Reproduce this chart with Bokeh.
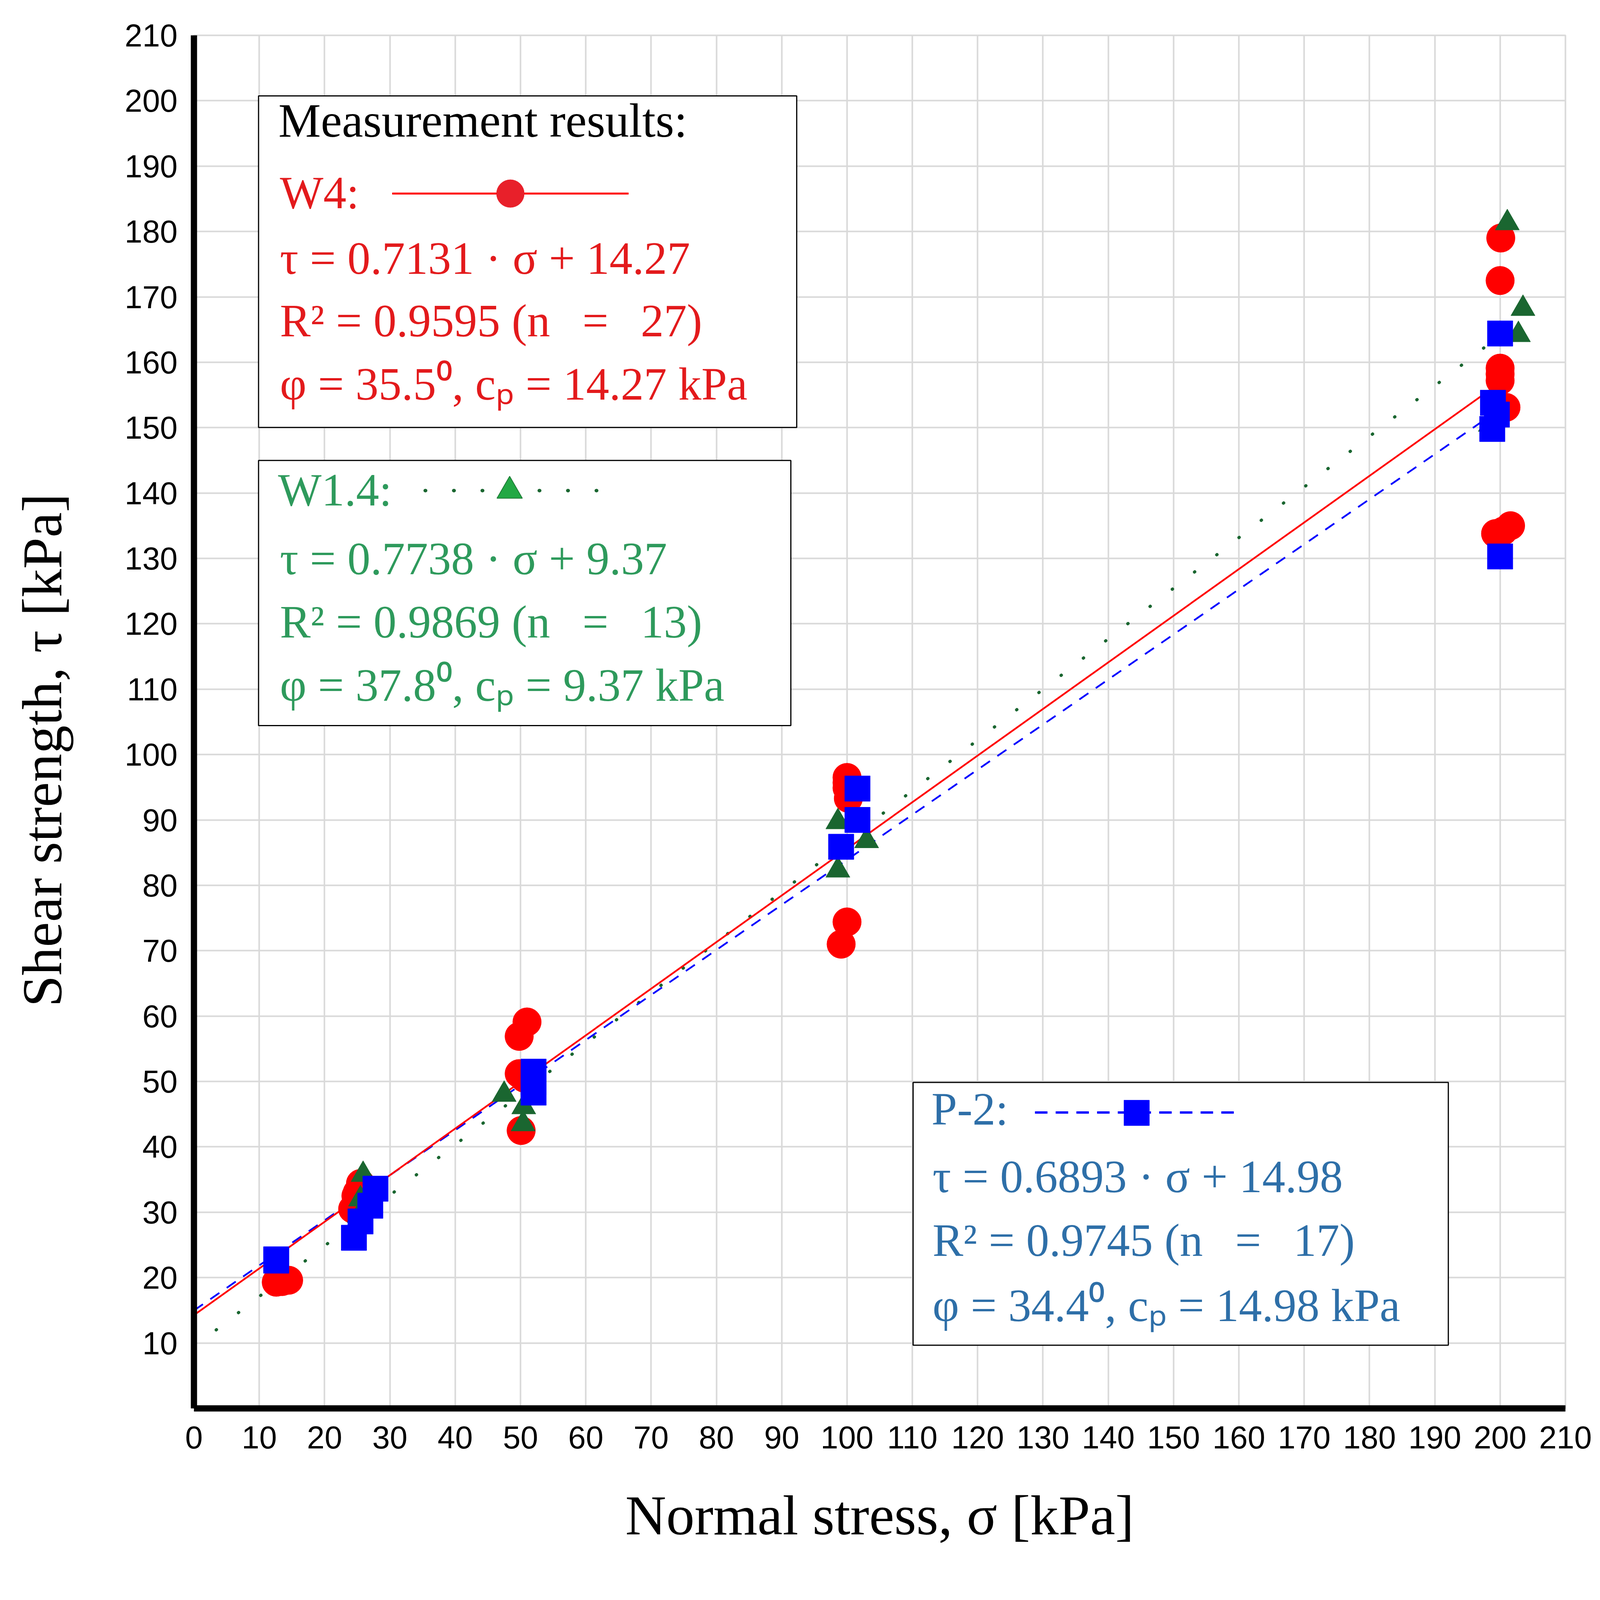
from bokeh.plotting import figure
from bokeh.models import Range1d, FixedTicker, Label, BoxAnnotation
from bokeh.embed import file_html
from bokeh.resources import INLINE

# ---------------- data ----------------
w4_x = [12.6, 14.5, 13.5,
        25.5, 24.8, 24.3, 25.0,
        51.0, 49.8, 49.8, 50.6, 50.1,
        100.0, 100.0, 100.2, 100.0, 100.0, 99.1,
        200.1, 200.0, 200.0, 200.0, 200.0, 200.9, 201.6, 199.3, 200.5]
w4_y = [19.3, 19.6, 19.4,
        34.4, 32.5, 30.5, 33.0,
        59.1, 56.9, 51.2, 50.5, 42.5,
        96.5, 94.9, 93.3, 95.7, 74.4, 71.0,
        179.0, 172.5, 159.1, 157.2, 158.2, 153.1, 135.0, 133.8, 134.2]

w14_x = [25.9, 25.5, 25.3,
         47.5, 50.5, 50.4,
         98.6, 103.0, 98.6,
         201.1, 203.5, 202.8, 198.5]
w14_y = [35.75, 32.0, 29.5,
         48.0, 46.1, 43.5,
         89.7, 86.8, 82.3,
         181.3, 168.2, 164.2, 150.5]

p2_x = [12.6, 12.6,
        27.8, 27.0, 25.5, 24.5,
        52.0, 52.0, 52.0,
        101.6, 101.6, 99.1,
        200.0, 198.9, 198.8, 200.0, 199.5]
p2_y = [22.8, 22.6,
        33.6, 31.0, 28.6, 26.1,
        51.5, 49.9, 48.3,
        94.8, 90.0, 85.9,
        164.4, 153.8, 149.8, 130.3, 152.0]

series_names = ["W4", "W1.4", "P-2"]
slopes = [0.7131, 0.7738, 0.6893]
intercepts = [14.27, 9.37, 14.98]
r2 = ["0.9595", "0.9869", "0.9745"]
n_obs = [27, 13, 17]
phi = ["35.5", "37.8", "34.4"]
trend_x = [0, 200]

x_ticks = list(range(0, 211, 10))
y_ticks = list(range(10, 211, 10))

# ---------------- styling ----------------
RED, GREEN_M, BLUE = "#ff0000", "#1a6630", "#0000ff"
TXT = ["#e31a1c", "#2e9a5c", "#2e6fa8"]
SERIF = "Liberation Serif"
NB = "\u00a0"
GAP = " " + NB + "\u2009"

W, H = 4090, 3986
FL, FT, FR, FB = 496, 90, 4007, 3605   # frame box in figure pixels

p = figure(width=W, height=H, x_range=Range1d(0, 210), y_range=Range1d(0, 210),
           output_backend="svg", toolbar_location=None,
           min_border_left=FL, min_border_right=W - FR,
           min_border_top=FT, min_border_bottom=H - FB)
p.background_fill_color = "white"
p.border_fill_color = "white"
p.outline_line_color = "#d9d9d9"
p.outline_line_width = 4

for ax in (p.xaxis[0], p.yaxis[0]):
    ax.axis_line_color = "black"
    ax.axis_line_width = 16
    ax.major_tick_in = 0
    ax.major_tick_out = 0
    ax.minor_tick_in = 0
    ax.minor_tick_out = 0
    ax.major_label_text_font = "Liberation Sans"
    ax.major_label_text_font_size = "81px"
    ax.major_label_text_color = "black"
    ax.axis_label_text_font = SERIF
    ax.axis_label_text_font_size = "145px"
    ax.axis_label_text_font_style = "normal"
    ax.axis_label_text_color = "black"

p.xaxis.ticker = FixedTicker(ticks=x_ticks)
p.yaxis.ticker = FixedTicker(ticks=y_ticks)
p.xaxis.major_label_standoff = 45
p.yaxis.major_label_standoff = 42
p.xaxis.axis_label = "Normal stress, σ [kPa]"
p.yaxis.axis_label = "Shear strength, τ [kPa]" + NB * 4
p.xaxis.axis_label_standoff = 88
p.yaxis.axis_label_standoff = 128

for g in (p.xgrid[0], p.ygrid[0]):
    g.grid_line_color = "#d9d9d9"
    g.grid_line_width = 4


# reference-image pixel -> data coordinates
def dx(px):
    return (px - 528) / (4264 - 528) * 210


def dy(py):
    return (3836 - py) / (3836 - 96) * 210


# legend boxes (drawn under the glyphs, over the grid)
for (l, t, r, b) in [(704, 261, 2170, 1164), (704, 1254, 2154, 1976), (2487, 2948, 3945, 3664)]:
    p.add_layout(BoxAnnotation(left=dx(l), right=dx(r), top=dy(t), bottom=dy(b),
                               fill_color="white", fill_alpha=1.0,
                               line_color="black", line_alpha=1.0, line_width=3,
                               level="underlay"))

# trend lines
ty = [[slopes[i] * x + intercepts[i] for x in trend_x] for i in range(3)]
p.line(trend_x, ty[1], line_color=GREEN_M, line_width=8, line_dash="1 71", line_cap="round")
p.line(trend_x, ty[2], line_color=BLUE, line_width=4.5, line_dash="28 23")
p.line(trend_x, ty[0], line_color=RED, line_width=4.5)

# data points
p.scatter(w4_x, w4_y, marker="circle", size=73, fill_color=RED, line_color=RED, line_width=1)
p.scatter(w14_x, w14_y, marker="triangle", size=62, fill_color=GREEN_M, line_color=GREEN_M, line_width=1)
p.scatter(p2_x, p2_y, marker="square", size=65, fill_color=BLUE, line_color=BLUE, line_width=1)

# legend samples
p.line([dx(1068), dx(1712)], [dy(527), dy(527)], line_color=RED, line_width=5)
p.scatter([dx(1390)], [dy(527)], marker="circle", size=71, fill_color="#e8202a", line_color="#e8202a")
p.line([dx(1158), dx(1625)], [dy(1336), dy(1336)], line_color=GREEN_M, line_width=9,
       line_dash="1 72", line_cap="round")
p.scatter([dx(1388)], [dy(1337)], marker="triangle", size=65, fill_color="#22a844",
          line_color="#1e7a36", line_width=2)
p.line([dx(2819), dx(3369)], [dy(3030), dy(3030)], line_color=BLUE, line_width=6, line_dash="32 21")
p.scatter([dx(3096)], [dy(3031)], marker="square", size=65, fill_color=BLUE, line_color=BLUE)

BASE_FIX = 42


def lab(x, y, text, color, size="118px"):
    p.add_layout(Label(x=dx(x), y=dy(y - BASE_FIX), text=text, text_color=color, text_font=SERIF,
                       text_font_size=size, text_baseline="alphabetic", text_align="left"))


lab(758, 370, "Measurement results:", "black", "122px")

blocks = [  # (x text, x name, baseline name, baselines of eq lines)
    (762, 762, 567, [746, 916, 1088]),
    (762, 757, 1377, [1564, 1736, 1908]),
    (2540, 2537, 3063, [3247, 3420, 3598]),
]
for i, (xt, xn, bn, bl) in enumerate(blocks):
    c = TXT[i]
    lab(xn, bn, series_names[i] + ":", c)
    lab(xt, bl[0], "τ = %.4f · σ + %.2f" % (slopes[i], intercepts[i]), c)
    lab(xt, bl[1], "R² = %s (n%s=%s%d)" % (r2[i], GAP, GAP, n_obs[i]), c)
    lab(xt, bl[2], "φ = %s⁰, cₚ = %.2f kPa" % (phi[i], intercepts[i]), c)

open("out.html", "w").write(file_html(p, INLINE))
